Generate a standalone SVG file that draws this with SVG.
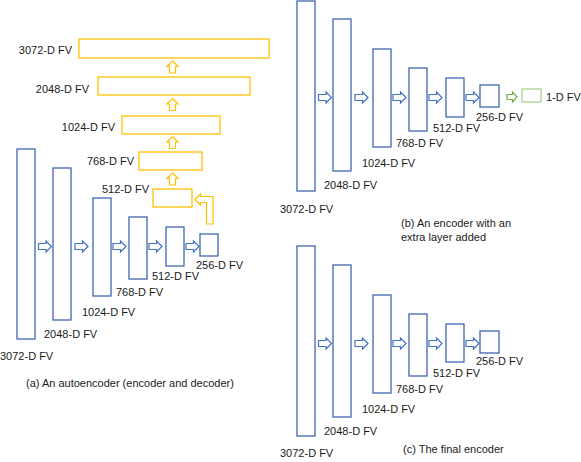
<svg xmlns="http://www.w3.org/2000/svg" xmlns:xlink="http://www.w3.org/1999/xlink" width="581" height="462" viewBox="0 0 581 462">
<style>
text{font-family:"Liberation Sans",Arial,sans-serif;font-size:11px;fill:#1a1a1a}
.enc{fill:#fff;stroke:#3F66AE;stroke-width:1.3}
.dec{fill:#fff;stroke:#FFC000;stroke-width:1.3}
.ext{fill:#fff;stroke:#A9D18E;stroke-width:1.3}
.ba{fill:#fff;stroke:#4472C4;stroke-width:1.2}
.ya{fill:#fff;stroke:#FFC000;stroke-width:1.2}
.ga{fill:#fff;stroke:#70AD47;stroke-width:1.2}
.end{text-anchor:end}
</style>
<defs>
<path id="ra" d="M0,-3 H7.5 V-5.5 L13,0 L7.5,5.5 V3 H0 Z"/>
<path id="ua" d="M0,0 L5.5,5.5 H3 V12 H-3 V5.5 H-5.5 Z"/>
</defs>

<!-- Panel (a): autoencoder -->
<g id="panel-a">
  <g id="a-enc-3072"><rect class="enc" x="17" y="149" width="18" height="190"/><text x="0" y="360">3072-D FV</text></g>
  <g id="a-enc-2048"><rect class="enc" x="53" y="168" width="18" height="152"/><text x="44" y="338">2048-D FV</text></g>
  <g id="a-enc-1024"><rect class="enc" x="93" y="198" width="18" height="98"/><text x="82" y="316">1024-D FV</text></g>
  <g id="a-enc-768"><rect class="enc" x="129" y="217" width="18" height="62"/><text x="116" y="296">768-D FV</text></g>
  <g id="a-enc-512"><rect class="enc" x="166" y="227" width="18" height="39"/><text x="152" y="280">512-D FV</text></g>
  <g id="a-enc-256"><rect class="enc" x="200" y="234" width="18" height="22"/><text x="196" y="269">256-D FV</text></g>

  <g id="a-dec-512"><rect class="dec" x="153" y="189" width="39" height="18"/><text class="end" x="149" y="193">512-D FV</text></g>
  <g id="a-dec-768"><rect class="dec" x="139" y="152" width="63" height="18"/><text class="end" x="134" y="165">768-D FV</text></g>
  <g id="a-dec-1024"><rect class="dec" x="122" y="116" width="98" height="18"/><text class="end" x="115" y="131">1024-D FV</text></g>
  <g id="a-dec-2048"><rect class="dec" x="98" y="77" width="152" height="18"/><text class="end" x="89" y="93">2048-D FV</text></g>
  <g id="a-dec-3072"><rect class="dec" x="79" y="39" width="190" height="19"/><text class="end" x="72" y="54">3072-D FV</text></g>

  <g id="a-connectors">
    <use href="#ra" class="ba" x="38.5" y="246.5"/>
    <use href="#ra" class="ba" x="75" y="246.5"/>
    <use href="#ra" class="ba" x="113" y="246.5"/>
    <use href="#ra" class="ba" x="149" y="246.5"/>
    <use href="#ra" class="ba" x="186" y="246.5"/>
    <path class="ya" d="M195,199.5 L200.5,194 V196.5 H213 V224 H206.5 V202.5 H200.5 V205 Z"/>
    <use href="#ua" class="ya" x="172.5" y="173"/>
    <use href="#ua" class="ya" x="172.5" y="136.5"/>
    <use href="#ua" class="ya" x="172.5" y="98.5"/>
    <use href="#ua" class="ya" x="172.5" y="61"/>
  </g>
  <text id="caption-a" x="26" y="387">(a) An autoencoder (encoder and decoder)</text>
</g>

<!-- Panel (b): encoder with extra layer -->
<g id="panel-b" transform="translate(280,-148)">
  <g id="b-enc-3072"><rect class="enc" x="17" y="149" width="18" height="190"/><text x="0" y="361">3072-D FV</text></g>
  <g id="b-enc-2048"><rect class="enc" x="53" y="167" width="18" height="152"/><text x="44" y="337">2048-D FV</text></g>
  <g id="b-enc-1024"><rect class="enc" x="93" y="197" width="18" height="98"/><text x="82" y="315">1024-D FV</text></g>
  <g id="b-enc-768"><rect class="enc" x="129" y="216" width="18" height="63"/><text x="116" y="295">768-D FV</text></g>
  <g id="b-enc-512"><rect class="enc" x="166" y="226" width="18" height="39"/><text x="153" y="280">512-D FV</text></g>
  <g id="b-enc-256"><rect class="enc" x="200" y="233" width="19" height="22"/><text x="196" y="269">256-D FV</text></g>
  <g id="b-ext-1"><rect class="ext" x="242" y="237" width="19" height="13"/><text x="266" y="249">1-D FV</text></g>
  <g id="b-connectors">
    <use href="#ra" class="ba" x="38.5" y="245.5"/>
    <use href="#ra" class="ba" x="75" y="245.5"/>
    <use href="#ra" class="ba" x="113" y="245.5"/>
    <use href="#ra" class="ba" x="149" y="245.5"/>
    <use href="#ra" class="ba" x="186" y="245.5"/>
    <path class="ga" d="M227,242.5 H232.5 V240 L237,245 L232.5,250 V247.5 H227 Z"/>
  </g>
</g>
<text id="caption-b1" x="401" y="227">(b) An encoder with an</text>
<text id="caption-b2" x="401" y="241">extra layer added</text>

<!-- Panel (c): final encoder -->
<g id="panel-c" transform="translate(280,97)">
  <g id="c-enc-3072"><rect class="enc" x="17" y="149" width="18" height="190"/><text x="0" y="360">3072-D FV</text></g>
  <g id="c-enc-2048"><rect class="enc" x="53" y="168" width="18" height="152"/><text x="44" y="338">2048-D FV</text></g>
  <g id="c-enc-1024"><rect class="enc" x="93" y="198" width="18" height="98"/><text x="82" y="316">1024-D FV</text></g>
  <g id="c-enc-768"><rect class="enc" x="129" y="217" width="18" height="62"/><text x="116" y="296">768-D FV</text></g>
  <g id="c-enc-512"><rect class="enc" x="166" y="227" width="18" height="38"/><text x="153" y="280">512-D FV</text></g>
  <g id="c-enc-256"><rect class="enc" x="200" y="234" width="19" height="22"/><text x="196" y="268">256-D FV</text></g>
  <g id="c-connectors">
    <use href="#ra" class="ba" x="38.5" y="246.5"/>
    <use href="#ra" class="ba" x="75" y="246.5"/>
    <use href="#ra" class="ba" x="113" y="246.5"/>
    <use href="#ra" class="ba" x="149" y="246.5"/>
    <use href="#ra" class="ba" x="186" y="246.5"/>
  </g>
</g>
<text id="caption-c" x="403" y="453">(c) The final encoder</text>
</svg>
